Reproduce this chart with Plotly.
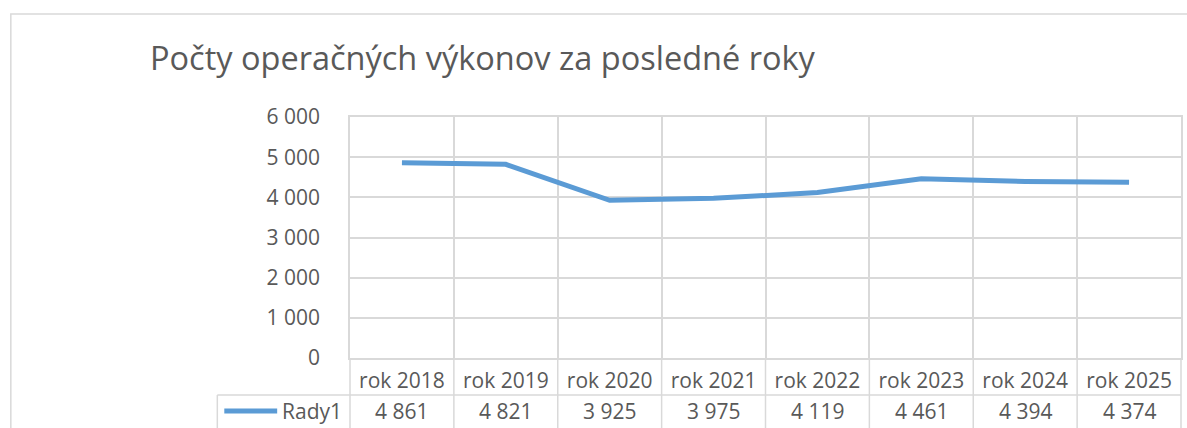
import plotly.graph_objects as go

categories = ["rok 2018", "rok 2019", "rok 2020", "rok 2021", "rok 2022", "rok 2023", "rok 2024", "rok 2025"]
values = [4861, 4821, 3925, 3975, 4119, 4461, 4394, 4374]
series_name = "Rady1"
title_text = "Počty operačných výkonov za posledné roky"

W, H = 1187, 428
L, R, T, B = 350, 4, 117, 70
pw = W - L - R
ph = H - T - B

def px_x(px):
    return (px - L) / pw

def px_y(py):
    return (H - B - py) / ph

grid = "#D9D9D9"
txt = "#595959"
blue = "#5B9BD5"
font = "Open Sans"
fs = 21

def fmt(v):
    return f"{v:,}".replace(",", " ")

fig = go.Figure()
fig.add_trace(go.Scatter(x=categories, y=values, mode="lines", name=series_name,
                         line=dict(color=blue, width=5), showlegend=False))

shapes = []
# outer chart border
shapes.append(dict(type="rect", xref="paper", yref="paper", x0=px_x(10), x1=px_x(1200),
                   y0=px_y(440), y1=px_y(14), line=dict(color=grid, width=1.5), layer="below"))
n = len(categories)
# vertical lines through category row and data table
for k in range(n + 1):
    shapes.append(dict(type="line", xref="paper", yref="paper", x0=k / n, x1=k / n,
                       y0=0, y1=px_y(440), line=dict(color=grid, width=1.5)))
# horizontal line below category labels
shapes.append(dict(type="line", xref="paper", yref="paper", x0=px_x(217), x1=1,
                   y0=px_y(395), y1=px_y(395), line=dict(color=grid, width=1.5)))
# table left border
shapes.append(dict(type="line", xref="paper", yref="paper", x0=px_x(217), x1=px_x(217),
                   y0=px_y(395), y1=px_y(440), line=dict(color=grid, width=1.5)))
# legend key
shapes.append(dict(type="line", xref="paper", yref="paper", x0=px_x(224), x1=px_x(277),
                   y0=px_y(411), y1=px_y(411), line=dict(color=blue, width=5)))

annotations = []
annotations.append(dict(text=series_name, xref="paper", yref="paper", x=px_x(344), y=px_y(411),
                        xanchor="right", yanchor="middle", showarrow=False,
                        font=dict(family=font, size=fs, color=txt)))
for c, v in zip(categories, values):
    annotations.append(dict(text=fmt(v), xref="x", yref="paper", x=c, y=px_y(411),
                            xanchor="center", yanchor="middle", showarrow=False,
                            font=dict(family=font, size=fs, color=txt)))

fig.update_layout(
    width=W, height=H,
    margin=dict(l=L, r=R, t=T, b=B, pad=0),
    paper_bgcolor="white", plot_bgcolor="white",
    separators=", ",
    title=dict(text=title_text, xref="container", yref="container", x=150 / W, xanchor="left",
               y=1 - 59 / H, yanchor="middle", font=dict(family=font, size=32.5, color=txt)),
    shapes=shapes, annotations=annotations,
)
fig.update_xaxes(type="category", tickson="boundaries", showgrid=True, gridcolor=grid, gridwidth=1.5,
                 showline=True, linecolor=grid, linewidth=1.5, mirror=True, ticks="",
                 tickfont=dict(family=font, size=fs, color=txt), ticklabelstandoff=3,
                 range=[-0.5, n - 0.5])
fig.update_yaxes(range=[0, 6000], dtick=1000, tickformat=",d", showgrid=True, gridcolor=grid,
                 gridwidth=1.5, showline=True, linecolor=grid, linewidth=1.5, mirror=True,
                 zeroline=False, ticks="", ticklabelstandoff=24,
                 tickfont=dict(family=font, size=fs, color=txt))

fig.write_html("out.html", config={"displayModeBar": False},
               post_script="document.body.style.margin='0';document.body.style.overflow='hidden';")
